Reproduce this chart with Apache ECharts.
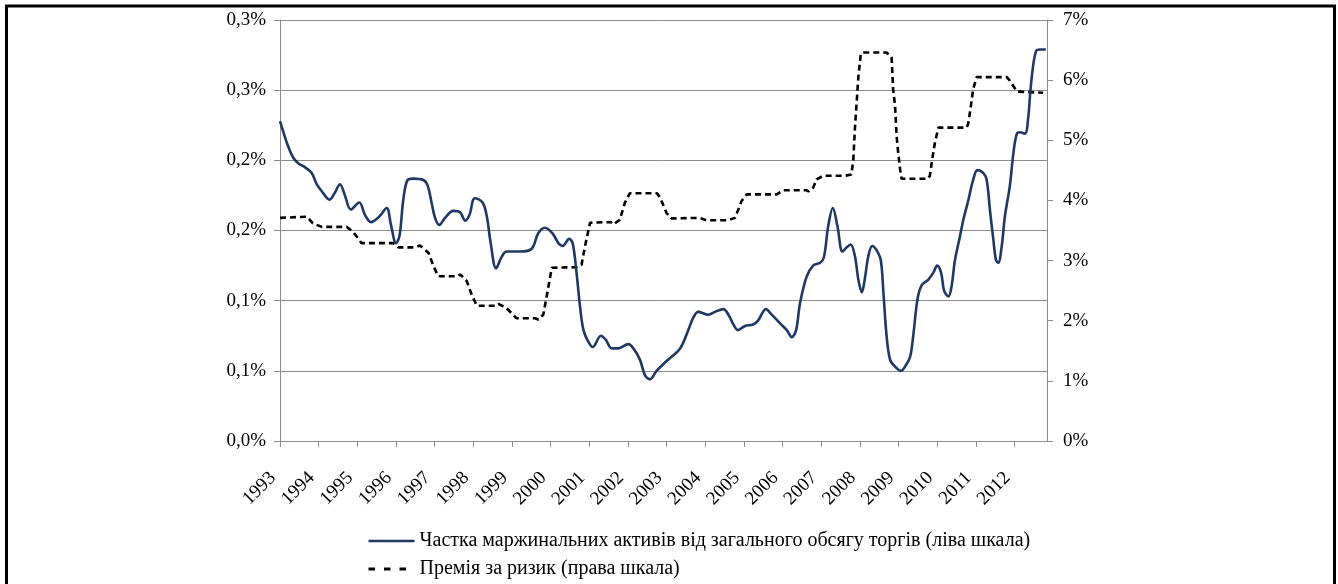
<!DOCTYPE html>
<html>
<head>
<meta charset="utf-8">
<script src="https://cdn.jsdelivr.net/npm/echarts@6/dist/echarts.min.js"></script>
<style>
html,body{margin:0;padding:0;background:#fff;}
#chart{width:1338px;height:584px;}
</style>
</head>
<body>
<div id="chart"></div>
<script>
// ---- data ----
const years = [1993,1994,1995,1996,1997,1998,1999,2000,2001,2002,2003,2004,2005,2006,2007,2008,2009,2010,2011,2012];
const leftTickLabels = ['0,0%','0,1%','0,1%','0,2%','0,2%','0,3%','0,3%'];
const rightTickLabels = ['0%','1%','2%','3%','4%','5%','6%','7%'];
const seriesNames = ['Частка маржинальних активів від загального обсягу торгів (ліва шкала)', 'Премія за ризик (права шкала)'];

// share of margin assets, % (left scale); dates in decimal years
const marginShareDates = [1993.00,1993.21,1993.34,1993.47,1993.65,1993.82,1993.95,1994.08,1994.28,1994.42,1994.55,1994.68,1994.83,1995.05,1995.20,1995.35,1995.57,1995.76,1995.87,1996.00,1996.09,1996.19,1996.30,1996.45,1996.71,1996.82,1996.92,1997.01,1997.12,1997.27,1997.48,1997.66,1997.79,1997.90,1998.04,1998.24,1998.35,1998.45,1998.59,1998.73,1998.86,1999.21,1999.51,1999.68,1999.85,2000.05,2000.20,2000.31,2000.48,2000.57,2000.67,2000.76,2000.85,2000.97,2001.09,2001.30,2001.43,2001.58,2001.75,2002.01,2002.14,2002.31,2002.44,2002.57,2002.74,2003.00,2003.35,2003.56,2003.69,2003.82,2004.08,2004.25,2004.47,2004.60,2004.73,2004.85,2005.03,2005.24,2005.37,2005.57,2005.72,2005.93,2006.11,2006.24,2006.35,2006.45,2006.62,2006.79,2006.97,2007.07,2007.18,2007.30,2007.42,2007.55,2007.66,2007.76,2007.87,2007.96,2008.05,2008.13,2008.22,2008.32,2008.43,2008.54,2008.61,2008.69,2008.78,2008.91,2009.06,2009.19,2009.30,2009.38,2009.49,2009.60,2009.77,2009.90,2010.00,2010.10,2010.18,2010.29,2010.37,2010.46,2010.59,2010.67,2010.80,2010.93,2011.04,2011.19,2011.28,2011.37,2011.45,2011.52,2011.58,2011.67,2011.75,2011.88,2011.97,2012.06,2012.14,2012.27,2012.36,2012.40,2012.47,2012.56,2012.66,2012.81];
const marginShareValues = [0.228,0.210,0.202,0.198,0.195,0.191,0.183,0.178,0.172,0.177,0.183,0.175,0.165,0.170,0.161,0.156,0.160,0.166,0.154,0.141,0.146,0.172,0.186,0.187,0.186,0.182,0.170,0.159,0.154,0.159,0.164,0.163,0.157,0.161,0.173,0.170,0.160,0.141,0.123,0.131,0.135,0.135,0.137,0.148,0.152,0.148,0.141,0.139,0.144,0.141,0.120,0.096,0.079,0.071,0.067,0.075,0.072,0.066,0.066,0.069,0.066,0.058,0.047,0.044,0.050,0.057,0.066,0.079,0.088,0.092,0.090,0.092,0.094,0.090,0.083,0.079,0.082,0.083,0.086,0.094,0.090,0.084,0.079,0.074,0.079,0.098,0.117,0.125,0.127,0.131,0.153,0.166,0.153,0.135,0.138,0.140,0.132,0.115,0.106,0.116,0.132,0.139,0.136,0.129,0.105,0.075,0.058,0.053,0.050,0.054,0.060,0.075,0.101,0.111,0.115,0.120,0.125,0.120,0.107,0.103,0.110,0.129,0.146,0.157,0.171,0.186,0.193,0.191,0.186,0.163,0.144,0.129,0.127,0.139,0.160,0.182,0.205,0.219,0.220,0.219,0.232,0.246,0.265,0.278,0.279,0.279];

// risk premium, % (right scale)
const riskPremiumDates = [1993.00,1993.70,1993.85,1994.08,1994.73,1994.90,1995.11,1995.93,1996.06,1996.49,1996.62,1996.84,1996.97,1997.09,1997.60,1997.66,1997.83,1997.96,1998.09,1998.59,1998.65,1998.86,1999.12,1999.60,1999.68,1999.81,1999.90,2000.03,2000.67,2000.80,2000.89,2001.02,2001.56,2001.62,2001.79,2001.92,2002.05,2002.75,2002.83,2003.00,2003.13,2003.86,2004.03,2004.59,2004.64,2004.77,2004.94,2005.07,2005.85,2006.02,2006.61,2006.67,2006.79,2006.88,2007.05,2007.61,2007.65,2007.78,2007.83,2007.87,2007.91,2007.96,2008.02,2008.05,2008.69,2008.82,2008.86,2008.91,2008.95,2008.99,2009.04,2009.08,2009.76,2009.81,2009.87,2009.94,2010.03,2010.76,2010.80,2010.86,2010.93,2011.02,2011.80,2011.88,2012.06,2012.74];
const riskPremiumValues = [3.71,3.73,3.62,3.56,3.56,3.47,3.29,3.29,3.22,3.22,3.25,3.13,2.91,2.74,2.74,2.77,2.66,2.43,2.25,2.25,2.28,2.21,2.04,2.04,2.02,2.10,2.41,2.88,2.89,2.93,3.24,3.63,3.64,3.60,3.68,3.96,4.12,4.12,4.05,3.79,3.70,3.71,3.67,3.67,3.65,3.71,3.99,4.10,4.10,4.17,4.17,4.15,4.21,4.35,4.41,4.41,4.38,4.43,4.68,5.18,5.57,6.05,6.41,6.46,6.46,6.38,5.85,5.57,5.07,4.80,4.52,4.36,4.36,4.41,4.68,4.96,5.21,5.21,5.27,5.52,5.85,6.05,6.05,5.99,5.81,5.79];

// ---- chart ----
const FONT = '"Liberation Serif", "DejaVu Serif", serif';
const GRID_COLOR = '#8c8c8c';
const BLUE = '#1f3864';
const chart = echarts.init(document.getElementById('chart'), null, {renderer: 'canvas'});

const option = {
  animation: false,
  backgroundColor: '#ffffff',
  textStyle: {fontFamily: FONT},
  graphic: [{
    type: 'rect',
    shape: {x: 6.5, y: 6, width: 1328, height: 640},
    style: {fill: 'none', stroke: '#000', lineWidth: 3},
    silent: true
  }],
  grid: {left: 280, right: 291, top: 20, bottom: 143, containLabel: false},
  legend: {
    orient: 'vertical',
    left: 367,
    top: 530,
    padding: 0,
    itemWidth: 46,
    itemHeight: 14,
    itemGap: 6,
    itemStyle: {opacity: 0, borderWidth: 0},
    textStyle: {fontFamily: FONT, fontSize: 20, color: '#000', lineHeight: 22, padding: [0, 0, 0, 0]},
    data: [
      {name: seriesNames[0], lineStyle: {color: BLUE, width: 2.6, type: 'solid'}},
      {name: seriesNames[1], lineStyle: {color: '#000', width: 3, type: [6.5, 9]}}
    ]
  },
  xAxis: {
    type: 'value',
    min: 1993,
    max: 2012.84,
    interval: 1,
    axisLine: {show: true, onZero: false, lineStyle: {color: GRID_COLOR, width: 1}},
    axisTick: {show: true, length: 6, customValues: years, lineStyle: {color: GRID_COLOR}},
    axisLabel: {
      customValues: years,
      rotate: 45,
      margin: 27,
      padding: [0, 10, 0, 0],
      fontFamily: FONT,
      fontSize: 19,
      color: '#000',
      formatter: function (v) { return String(Math.round(v)); }
    },
    splitLine: {show: false}
  },
  yAxis: [{
    type: 'value',
    position: 'left',
    min: 0,
    max: 0.3,
    interval: 0.05,
    axisLine: {show: true, lineStyle: {color: GRID_COLOR}},
    axisTick: {show: true, length: 6, lineStyle: {color: GRID_COLOR}},
    axisLabel: {
      margin: 14,
      fontFamily: FONT,
      fontSize: 19,
      color: '#000',
      formatter: function (v) { return leftTickLabels[Math.round(v / 0.05)]; }
    },
    splitLine: {show: true, lineStyle: {color: GRID_COLOR, width: 1}}
  }, {
    type: 'value',
    position: 'right',
    min: 0,
    max: 7,
    interval: 1,
    axisLine: {show: true, lineStyle: {color: GRID_COLOR}},
    axisTick: {show: true, length: 6, lineStyle: {color: GRID_COLOR}},
    axisLabel: {
      margin: 16,
      fontFamily: FONT,
      fontSize: 19,
      color: '#000',
      formatter: function (v) { return rightTickLabels[Math.round(v)]; }
    },
    splitLine: {show: false}
  }],
  series: [{
    name: seriesNames[0],
    type: 'line',
    yAxisIndex: 0,
    data: marginShareDates.map(function (d, i) { return [d, marginShareValues[i]]; }),
    smooth: 0.35,
    symbol: 'none',
    lineStyle: {color: BLUE, width: 2.6},
    itemStyle: {color: BLUE},
    z: 3
  }, {
    name: seriesNames[1],
    type: 'line',
    yAxisIndex: 1,
    data: riskPremiumDates.map(function (d, i) { return [d, riskPremiumValues[i]]; }),
    smooth: false,
    symbol: 'none',
    lineStyle: {color: '#000', width: 2.6, type: [6, 4]},
    itemStyle: {color: '#000'},
    z: 2
  }]
};
chart.setOption(option);
</script>
</body>
</html>
